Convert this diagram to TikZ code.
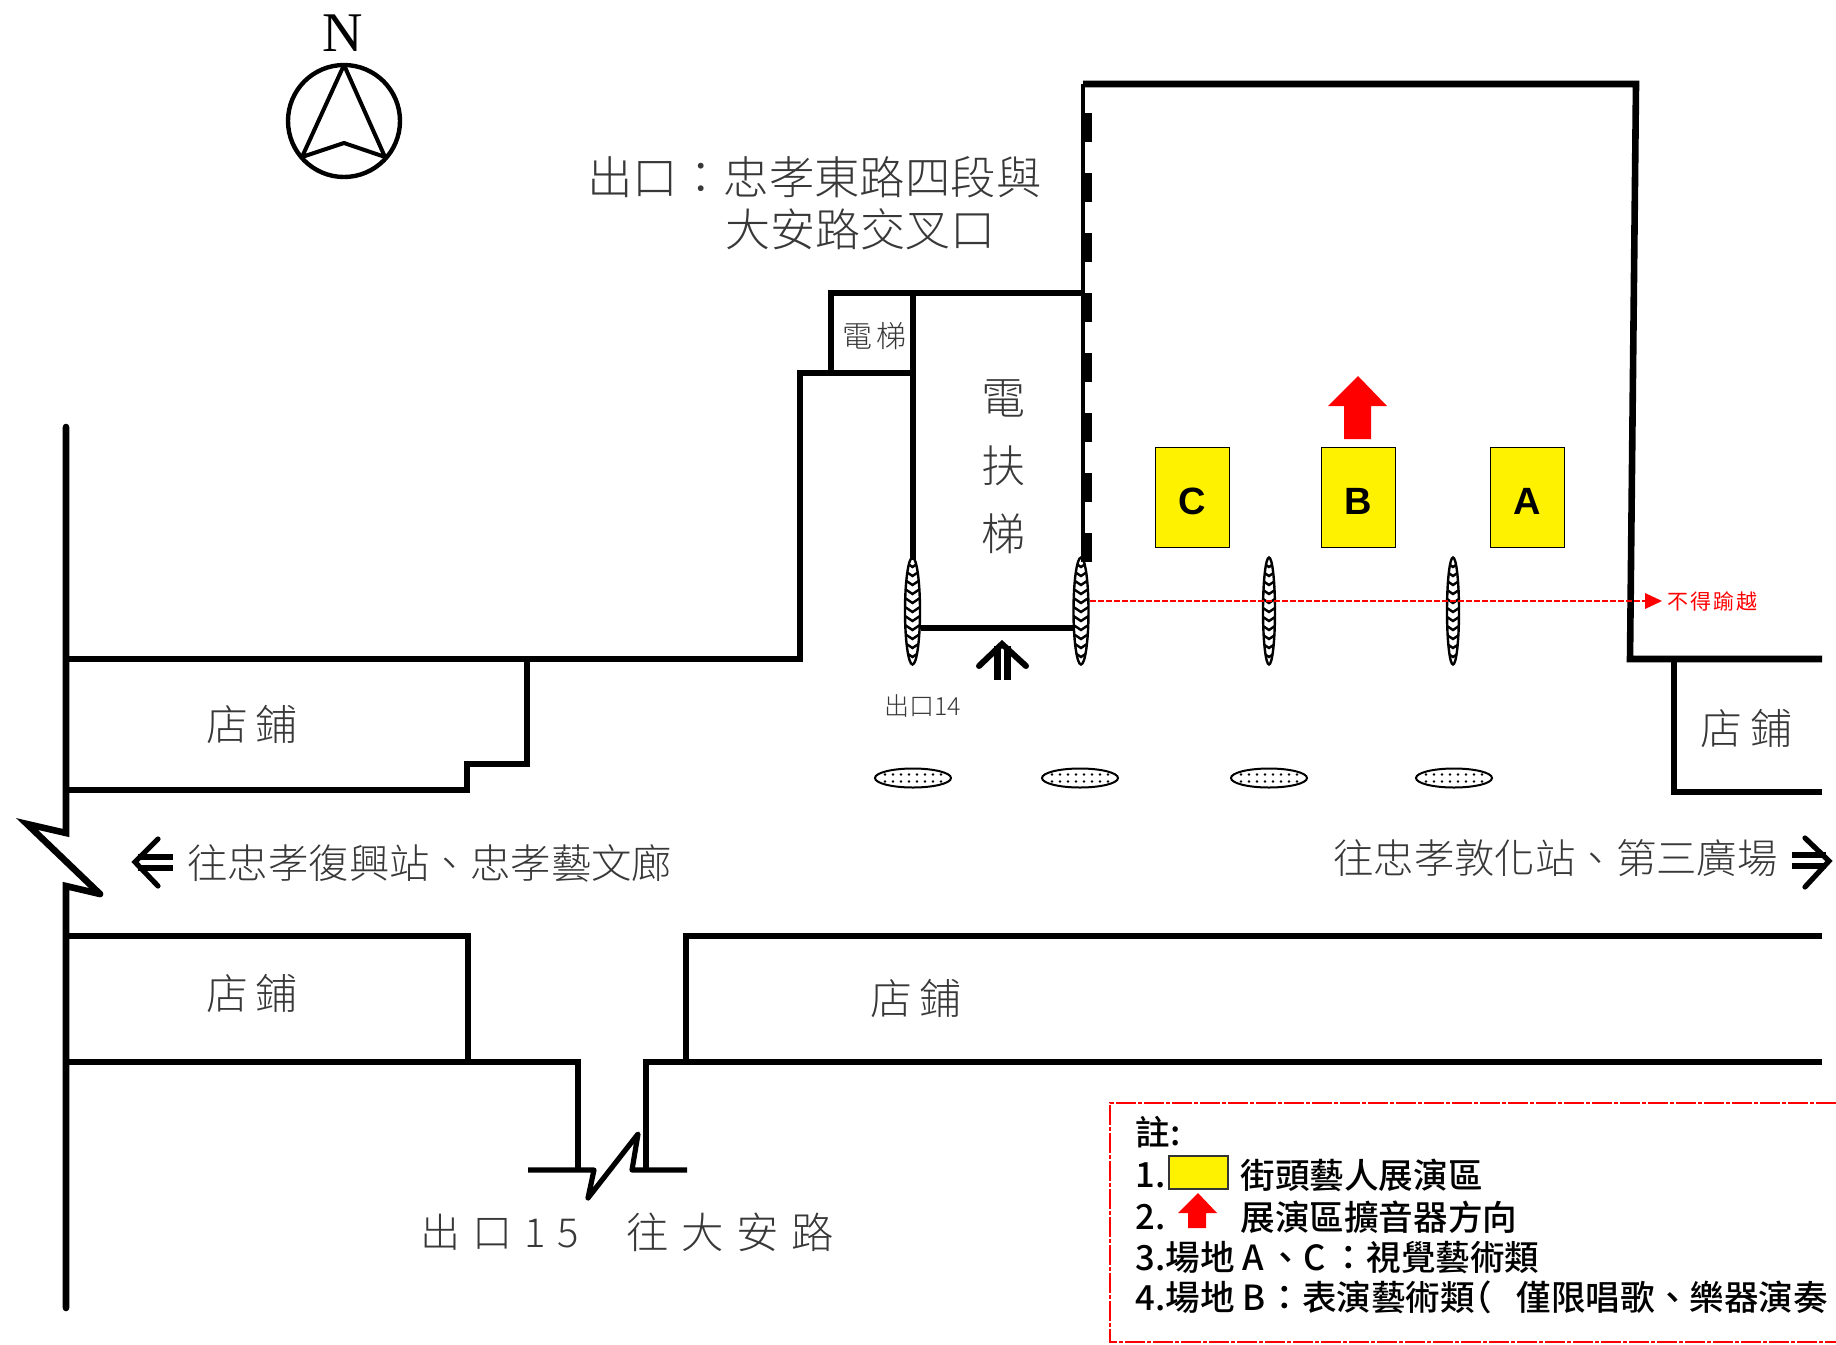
\documentclass[tikz,border=0pt]{standalone}
\usepackage{fontspec}
\usetikzlibrary{shapes.geometric}
\newfontfamily\cjk{Noto Sans CJK TC Light}
\newfontfamily\cjkm{Noto Sans CJK TC Medium}
\newfontfamily\cjks{Noto Sans CJK TC Light}[LetterSpace=30]
\newfontfamily\cjkr{Noto Sans CJK TC}[LetterSpace=10]
\newfontfamily\lat{Liberation Sans}
\newfontfamily\ser{Liberation Serif}
\definecolor{txt}{gray}{0.22}
\tikzset{
  wall/.style={line width=3.3pt,line join=miter,line cap=butt},
  stub/.style={line width=2.6pt,line join=round,line cap=butt},
  thin wall/.style={line width=2.4pt},
  pad/.style={draw=black,line width=1pt,fill=white},
  zone/.style={draw=black,line width=.6pt,fill=yellow,minimum width=0pt,inner sep=0pt},
  zonelabel/.style={font=\lat\bfseries\fontsize{19}{19}\selectfont,text=black},
  label/.style={font=\cjk\fontsize{20}{20}\selectfont,text=txt,inner sep=0pt},
  legend/.style={font=\cjkm\fontsize{17.3}{17.3}\selectfont,text=black,anchor=west,inner sep=0pt},
  spk/.style={fill=red,draw=none},
  arrowline/.style={line width=2.6pt,line cap=round,line join=miter},
}
\newcommand{\rope}[2]{%
  \begin{scope}
    \clip (#1,611) ellipse [x radius=#2,y radius=53.5];
    \foreach \yy in {552,561,...,670}
      \draw[line width=1.2pt] (#1-9,\yy) -- (#1,\yy+6) -- (#1+9,\yy);
  \end{scope}
  \draw[line width=1.2pt] (#1,611) ellipse [x radius=#2,y radius=53.5];
}
\newcommand{\padmark}[1]{%
  \path[pad] (#1,778) ellipse [x radius=38,y radius=9.5];
  \foreach \dd in {-28,-20,...,28} {
    \fill (#1+\dd,774.5) circle [radius=1.3];
    \fill (#1+\dd,781.5) circle [radius=1.3];
  }
}
\begin{document}
\begin{tikzpicture}[x=0.5pt,y=-0.5pt]
\useasboundingbox (0,0) rectangle (1836,1344);
\clip (0,0) rectangle (1836,1344);
% compass
\node[inner sep=0pt,font=\ser\fontsize{28}{28}\selectfont] (north) at (343,33) {N};
\draw[line width=2.2pt] (344,121) ellipse [x radius=56,y radius=56];
\draw[line width=2pt,line join=round] (302,157) -- (344,65) -- (385,157) -- (344,143) -- cycle;
% upper walls
\draw[wall,line cap=round] (66,427) -- (66,833) -- (27,824) -- (100,894);
\draw[wall,line cap=round] (100,894) -- (66,886) -- (66,1308);
\draw[wall] (66,659) -- (800,659) -- (800,373) -- (913,373);
\draw[wall] (831,373) -- (831,293) -- (1083,293);
\draw[wall] (913,293) -- (913,560);
\draw[wall] (1083,84) -- (1636,84) -- (1630,659) -- (1822,659);
\draw[thin wall] (1083,84) -- (1083,562);
\foreach \yy in {113,173,233,293,353,413,473,533}
  \draw[line width=5pt] (1087,\yy) -- (1087,\yy+29);
% shops
\draw[wall] (527,659) -- (527,764) -- (467,764) -- (467,790) -- (66,790);
\draw[wall] (1674,659) -- (1674,792) -- (1822,792);
\draw[wall] (66,936) -- (468,936) -- (468,1062);
\draw[wall] (66,1062) -- (578,1062) -- (578,1170);
\draw[stub] (528,1170) -- (594,1170) -- (588,1198) -- (638,1134) -- (632,1170) -- (687,1170);
\draw[wall] (646,1170) -- (646,1062) -- (1822,1062);
\draw[wall] (686,1062) -- (686,936) -- (1822,936);
% escalator entry line
\draw[wall] (921,628) -- (1075,628);
% pillars
\rope{912.5}{7.5}
\rope{1081}{7.5}
\rope{1269}{6}
\rope{1453}{6}
% red limit line
\coordinate (limL) at (1090,601);
\coordinate (limR) at (1646,601);
\draw[red,line width=1.1pt,dash pattern=on 3pt off 1pt] (limL) -- (limR);
\fill[red] (1645,593) -- (1662,601) -- (1645,609) -- cycle;
\node[inner sep=0pt,anchor=west,font=\cjkr\fontsize{10.5}{10.5}\selectfont,text=red] (nocross) at (1667,601) {不得踰越};
% pads
\padmark{913}
\padmark{1080}
\padmark{1269}
\padmark{1454}
% zones
\node[zone,minimum width=37pt,minimum height=50pt,anchor=north west] (zoneC) at (1155,447) {};
\node[zone,minimum width=37pt,minimum height=50pt,anchor=north west] (zoneB) at (1321,447) {};
\node[zone,minimum width=37pt,minimum height=50pt,anchor=north west] (zoneA) at (1490,447) {};
\node[zonelabel] at ([yshift=-2pt]zoneC) {C};
\node[zonelabel] at ([yshift=-2pt]zoneB) {B};
\node[zonelabel] at ([yshift=-2pt]zoneA) {A};
% speaker arrow
\path[spk] (1358,376) -- (1328,406) -- (1344,406) -- (1344,439) -- (1371,439) -- (1371,406) -- (1387,406) -- cycle;
% up arrow
\draw[line width=3.5pt] (997,646) -- (997,680);
\draw[line width=3.5pt] (1007,646) -- (1007,680);
\draw[arrowline,line width=3pt] (979,666) -- (1002,644) -- (1026,666);
% left arrow
\draw[line width=3pt] (173,857) -- (138,857);
\draw[line width=3pt] (173,868) -- (138,868);
\draw[arrowline] (158,839) -- (135,862) -- (158,886);
% right arrow
\draw[line width=3pt] (1792,855) -- (1826,855);
\draw[line width=3pt] (1792,866) -- (1826,866);
\draw[arrowline] (1805,838) -- (1829,861) -- (1805,887);
% labels
\node[label,font=\cjk\fontsize{22.7}{22.7}\selectfont,anchor=west] (exitA) at (587,177) {出口：忠孝東路四段與};
\node[label,font=\cjk\fontsize{22.5}{22.5}\selectfont,anchor=west] (exitB) at (725,229) {大安路交叉口};
\node[label,font=\cjk\fontsize{15}{15}\selectfont] (elev) at (874,336) {電\hspace{2pt}梯};
\node[label,font=\cjk\fontsize{22}{22}\selectfont] (esc1) at (1003,398) {電};
\node[label,font=\cjk\fontsize{22}{22}\selectfont] (esc2) at (1003,466) {扶};
\node[label,font=\cjk\fontsize{22}{22}\selectfont] (esc3) at (1003,534) {梯};
\node[label,font=\cjk\fontsize{12.5}{12.5}\selectfont,anchor=west] (exit14) at (884,706) {出口14};
\foreach \nm/\xx/\yy in {shopA/252/724,shopB/252/993,shopC/916/998,shopD/1746/728}
  \node[label,font=\cjk\fontsize{21}{21}\selectfont] (\nm) at (\xx,\yy) {店\hspace{4pt}鋪};
\node[label,anchor=west,font=\cjk\fontsize{20.2}{20.2}\selectfont] (west) at (187,863) {往忠孝復興站、忠孝藝文廊};
\node[label,anchor=east,font=\cjk\fontsize{20.2}{20.2}\selectfont] (east) at (1778,858) {往忠孝敦化站、第三廣場};
\node[label,anchor=west,font=\cjks\fontsize{20}{20}\selectfont] (exit15a) at (420,1232) {出口15};
\node[label,anchor=west,font=\cjks\fontsize{21.2}{21.2}\selectfont] (exit15b) at (626,1232) {往大安路};
% legend
\draw[red,line width=.9pt,dash pattern=on 10pt off 1pt on 2pt off 1pt] (1836,1103) -- (1110,1103) -- (1110,1342) -- (1836,1342);
\node[legend] (n0) at (1135,1132) {註:};
\node[legend] (n1) at (1135,1175) {1.};
\node[zone,minimum width=29.5pt,minimum height=16.5pt,anchor=north west,draw=black!80,line width=.9pt] (n1box) at (1168,1155) {};
\node[legend] (n1t) at (1240,1175) {街頭藝人展演區};
\node[legend] (n2) at (1135,1217) {2.};
\path[spk] (1198,1193) -- (1178,1213) -- (1188,1213) -- (1188,1228) -- (1206,1228) -- (1206,1213) -- (1217,1213) -- cycle;
\node[legend] (n2t) at (1240,1217) {展演區擴音器方向};
\node[legend] (n3) at (1135,1258) {3.場地 A\hspace{2.5pt}、C\hspace{3pt}：視覺藝術類};
\node[legend] (n4) at (1135,1297) {4.場地 B\hspace{1pt}：表演藝術類\kern-9pt（\kern12.5pt 僅限唱歌、樂器演奏};
\end{tikzpicture}
\end{document}
